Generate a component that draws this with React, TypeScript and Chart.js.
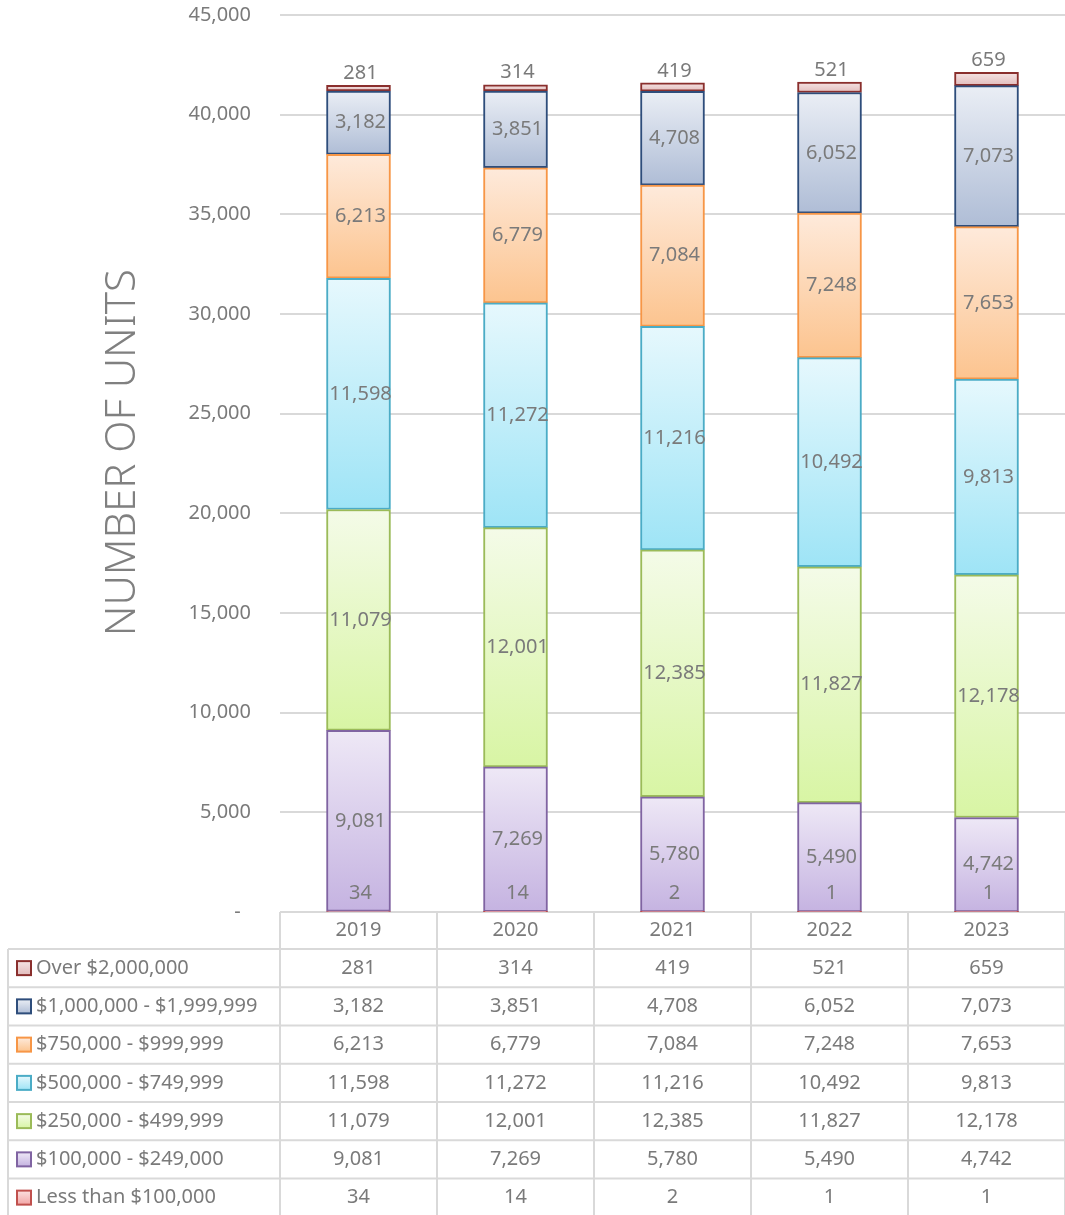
import React, { useEffect, useRef } from 'react';
import { Chart, registerables } from 'chart.js';

Chart.register(...registerables);

// ---- data ----
const years = ['2019', '2020', '2021', '2022', '2023'];
const seriesNames = [
  'Less than $100,000',
  '$100,000 - $249,000',
  '$250,000 - $499,999',
  '$500,000 - $749,999',
  '$750,000 - $999,999',
  '$1,000,000 - $1,999,999',
  'Over $2,000,000',
];
const lessThan100k = [34, 14, 2, 1, 1];
const from100kTo249k = [9081, 7269, 5780, 5490, 4742];
const from250kTo499k = [11079, 12001, 12385, 11827, 12178];
const from500kTo749k = [11598, 11272, 11216, 10492, 9813];
const from750kTo999k = [6213, 6779, 7084, 7248, 7653];
const from1mTo2m = [3182, 3851, 4708, 6052, 7073];
const over2m = [281, 314, 419, 521, 659];
const yAxisMax = 45000;
const yAxisStep = 5000;
const yAxisTitle = 'NUMBER OF UNITS';

const seriesValues = [lessThan100k, from100kTo249k, from250kTo499k, from500kTo749k, from750kTo999k, from1mTo2m, over2m];

// ---- styles ----
const TOP_COLORS = ['#fbe0e0', '#eee8f6', '#f4fbe8', '#e6f8fd', '#feeadb', '#eaeef5', '#f5e4e4'];
const BOTTOM_COLORS = ['#f2a6a6', '#c5b3e1', '#d8f5a4', '#9ee4f6', '#fcc48f', '#afbdd6', '#e2bcbc'];
const BORDER_COLORS = ['#c0504d', '#8064a2', '#9bbb59', '#4bacc6', '#f79646', '#2e4d7b', '#8a2f2d'];
const TEXT = '#7a7a7a';
const GRID = '#d9d9d9';
const FONT = "'Noto Sans', sans-serif";

const fmt = (n: number) => n.toLocaleString('en-US');

function segmentFill(ctx: any, ds: number) {
  const chart = ctx.chart;
  const fallback = BOTTOM_COLORS[ds];
  if (ctx.type !== 'data' || !chart.chartArea || !chart.scales.y) return fallback;
  const y = chart.scales.y;
  let start = 0;
  for (let d = 0; d < ds; d++) start += seriesValues[d][ctx.dataIndex];
  const end = start + seriesValues[ds][ctx.dataIndex];
  const yTop = y.getPixelForValue(end);
  const yBot = y.getPixelForValue(start);
  if (yBot - yTop < 1) return fallback;
  const g = chart.ctx.createLinearGradient(0, yTop, 0, yBot);
  g.addColorStop(0, TOP_COLORS[ds]);
  g.addColorStop(1, BOTTOM_COLORS[ds]);
  return g;
}

const labelPlugin = {
  id: 'segLabels',
  afterDatasetsDraw(chart: any) {
    const { ctx } = chart;
    ctx.save();
    ctx.font = `20px ${FONT}`;
    ctx.fillStyle = TEXT;
    ctx.textAlign = 'center';
    ctx.textBaseline = 'middle';
    const n = chart.data.datasets.length;
    chart.data.datasets.forEach((ds: any, di: number) => {
      const meta = chart.getDatasetMeta(di);
      meta.data.forEach((el: any, i: number) => {
        const v = ds.data[i];
        let y: number;
        if (di === n - 1) y = Math.min(el.y, el.base) - 12;
        else if (di === 0) y = el.base - 18;
        else y = (el.y + el.base) / 2;
        ctx.fillText(fmt(v), el.x + 2, y);
      });
    });
    ctx.restore();
  },
};

const tablePlugin = {
  id: 'dataTable',
  afterDraw(chart: any) {
    const { ctx, chartArea } = chart;
    const x = chart.scales.x;
    const left = chartArea.left;
    const right = chartArea.right;
    const top = chartArea.bottom;
    const headerH = 37;
    const rowH = 38.25;
    const tableLeft = 8;
    const nRows = seriesNames.length;
    const bottom = top + headerH + rowH * nRows;
    ctx.save();
    ctx.strokeStyle = GRID;
    ctx.lineWidth = 2;
    for (let r = 0; r <= nRows; r++) {
      const yy = top + headerH + r * rowH;
      ctx.beginPath();
      ctx.moveTo(tableLeft, yy);
      ctx.lineTo(right, yy);
      ctx.stroke();
    }
    const slot = (right - left) / years.length;
    for (let c = 0; c <= years.length; c++) {
      const xx = left + c * slot;
      ctx.beginPath();
      ctx.moveTo(xx, top);
      ctx.lineTo(xx, bottom);
      ctx.stroke();
    }
    ctx.beginPath();
    ctx.moveTo(tableLeft, top + headerH);
    ctx.lineTo(tableLeft, bottom);
    ctx.stroke();

    ctx.font = `20px ${FONT}`;
    ctx.fillStyle = TEXT;
    ctx.textBaseline = 'middle';
    for (let r = 0; r < nRows; r++) {
      const ds = nRows - 1 - r;
      const cy = top + headerH + r * rowH + rowH / 2;
      const g = ctx.createLinearGradient(0, cy - 7, 0, cy + 7);
      g.addColorStop(0, TOP_COLORS[ds]);
      g.addColorStop(1, BOTTOM_COLORS[ds]);
      ctx.fillStyle = g;
      ctx.fillRect(17, cy - 7, 14, 14);
      ctx.strokeStyle = BORDER_COLORS[ds];
      ctx.lineWidth = 2;
      ctx.strokeRect(17, cy - 7, 14, 14);
      ctx.fillStyle = TEXT;
      ctx.textAlign = 'left';
      ctx.fillText(seriesNames[ds], 36, cy);
      ctx.textAlign = 'center';
      seriesValues[ds].forEach((v, i) => {
        ctx.fillText(fmt(v), x.getPixelForValue(i), cy);
      });
    }
    ctx.restore();
  },
};

export default function App() {
  const ref = useRef<HTMLCanvasElement | null>(null);
  useEffect(() => {
    document.body.style.margin = '0';
    const canvas = ref.current;
    if (!canvas) return;
    const chart = new Chart(canvas, {
      type: 'bar',
      data: {
        labels: years,
        datasets: seriesNames.map((name, di) => ({
          label: name,
          data: seriesValues[di],
          backgroundColor: (c: any) => segmentFill(c, di),
          borderColor: BORDER_COLORS[di],
          borderWidth: 2,
          borderSkipped: false,
          barThickness: 64,
        })),
      },
      options: {
        animation: false,
        responsive: false,
        maintainAspectRatio: false,
        layout: { padding: { top: 15, left: 0, right: 0, bottom: 0 } },
        plugins: { legend: { display: false }, tooltip: { enabled: false } },
        scales: {
          x: {
            stacked: true,
            grid: { display: false, drawTicks: false },
            border: { display: false },
            ticks: { font: { family: FONT, size: 20 }, color: TEXT, padding: 6 },
            afterFit: (s: any) => {
              s.height = 303;
              s.paddingLeft = 0;
              s.paddingRight = 0;
            },
          },
          y: {
            stacked: true,
            min: 0,
            max: yAxisMax,
            grid: { color: GRID, lineWidth: 2, drawTicks: false },
            border: { display: false },
            ticks: {
              stepSize: yAxisStep,
              padding: 29,
              font: { family: FONT, size: 20 },
              color: TEXT,
              callback: (v: any) => (Number(v) === 0 ? '-  ' : fmt(Number(v))),
            },
            title: {
              display: true,
              text: '  ' + yAxisTitle,
              color: '#808080',
              font: { family: FONT, size: 42, weight: '300' as any },
              padding: { top: 98, bottom: 0 },
            },
            afterFit: (s: any) => {
              s.width = 280;
              s.paddingTop = 0;
              s.paddingBottom = 0;
            },
          },
        },
      },
      plugins: [labelPlugin, tablePlugin],
    });
    return () => chart.destroy();
  }, []);
  return (
    <div style={{ width: 1065, height: 1215 }}>
      <canvas ref={ref} width={1065} height={1215} style={{ display: 'block' }} />
    </div>
  );
}
